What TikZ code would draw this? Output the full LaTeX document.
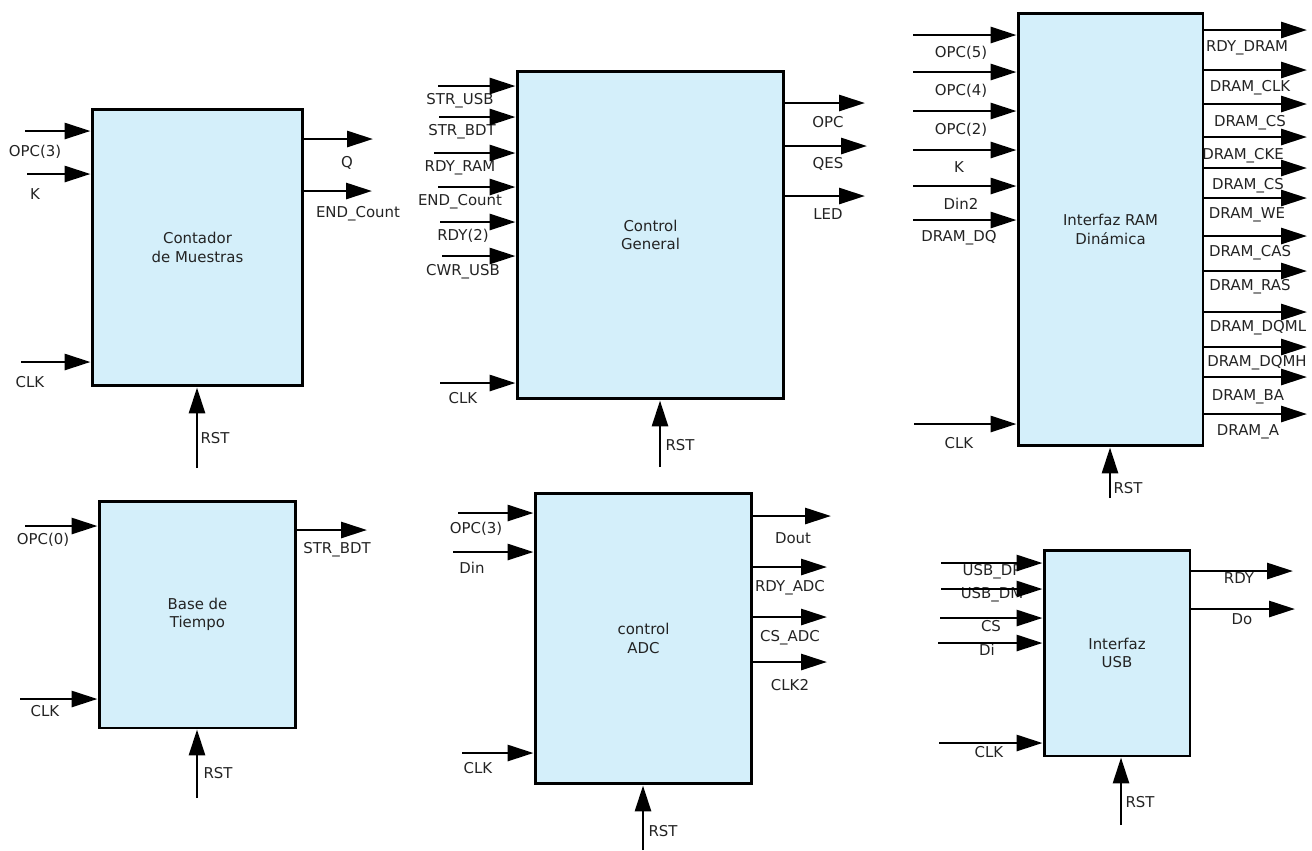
\documentclass[tikz,border=0pt]{standalone}
\usepackage{fontspec}
\setmainfont{DejaVu Sans}
\usetikzlibrary{arrows.meta}
\definecolor{blockfill}{RGB}{212,239,250}
\definecolor{labelgray}{RGB}{35,35,35}
\begin{document}
\begin{tikzpicture}[
  x=0.02cm, y=-0.02cm,
  every node/.style={align=center, inner sep=1pt},
  blockbox/.style={rectangle, draw=black, line width=1.7pt, fill=blockfill,
                   inner sep=0pt, font=\fontsize{8.5}{10.5}\selectfont\color{labelgray}},
  lbl/.style={font=\fontsize{8.5}{10}\selectfont\color{labelgray}},
  sig/.style={line width=1.6pt, -{Triangle[length=0.52cm, width=0.32cm]}}
]
\useasboundingbox (0,0) rectangle (1312,850);

% BLOCK 1: CONTADOR DE MUESTRAS
\node[blockbox, minimum width=4.22cm, minimum height=5.54cm] (cnt) at (197.5,247.5) {Contador\\de Muestras};
\coordinate (i1a) at (25,131);  \node[lbl] (l1a) at (35,152) {OPC(3)};
\coordinate (i1b) at (27,174);  \node[lbl] (l1b) at (35,194) {K};
\coordinate (i1c) at (21,362);  \node[lbl] (l1c) at (30,382) {CLK};
\coordinate (o1a) at (373,139); \node[lbl] (m1a) at (347,163) {Q};
\coordinate (o1b) at (372,191); \node[lbl] (m1b) at (358,214) {END\_Count};
\coordinate (r1)  at (197,468); \node[lbl] (n1)  at (215,438) {RST};
\draw[sig] (i1a) -- (i1a -| cnt.west);
\draw[sig] (i1b) -- (i1b -| cnt.west);
\draw[sig] (i1c) -- (i1c -| cnt.west);
\draw[sig] (o1a -| cnt.east) -- (o1a);
\draw[sig] (o1b -| cnt.east) -- (o1b);
\draw[sig] (r1) -- (r1 |- cnt.south);

% BLOCK 2: CONTROL GENERAL
\node[blockbox, minimum width=5.34cm, minimum height=6.56cm] (ctl) at (650.5,235) {Control\\General};
\coordinate (i2a) at (438,86);  \node[lbl] (l2a) at (460,101) {STR\_USB};
\coordinate (i2b) at (439,117); \node[lbl] (l2b) at (462,132) {STR\_BDT};
\coordinate (i2c) at (434,153); \node[lbl] (l2c) at (460,168) {RDY\_RAM};
\coordinate (i2d) at (438,187); \node[lbl] (l2d) at (460,202) {END\_Count};
\coordinate (i2e) at (440,222); \node[lbl] (l2e) at (463,236) {RDY(2)};
\coordinate (i2f) at (442,256); \node[lbl] (l2f) at (463,272) {CWR\_USB};
\coordinate (i2g) at (440,383); \node[lbl] (l2g) at (463,398) {CLK};
\coordinate (o2a) at (865,103); \node[lbl] (m2a) at (828,122) {OPC};
\coordinate (o2b) at (867,146); \node[lbl] (m2b) at (828,164) {QES};
\coordinate (o2c) at (865,196); \node[lbl] (m2c) at (828,214) {LED};
\coordinate (r2)  at (660,467); \node[lbl] (n2)  at (680,445) {RST};
\draw[sig] (i2a) -- (i2a -| ctl.west);
\draw[sig] (i2b) -- (i2b -| ctl.west);
\draw[sig] (i2c) -- (i2c -| ctl.west);
\draw[sig] (i2d) -- (i2d -| ctl.west);
\draw[sig] (i2e) -- (i2e -| ctl.west);
\draw[sig] (i2f) -- (i2f -| ctl.west);
\draw[sig] (i2g) -- (i2g -| ctl.west);
\draw[sig] (o2a -| ctl.east) -- (o2a);
\draw[sig] (o2b -| ctl.east) -- (o2b);
\draw[sig] (o2c -| ctl.east) -- (o2c);
\draw[sig] (r2) -- (r2 |- ctl.south);

% BLOCK 3: INTERFAZ RAM DINAMICA
\node[blockbox, minimum width=3.70cm, minimum height=8.66cm] (ram) at (1110.5,229.5) {Interfaz RAM\\Dinámica};
\coordinate (i3a) at (913,35);   \node[lbl] (l3a) at (961,53)  {OPC(5)};
\coordinate (i3b) at (913,72);   \node[lbl] (l3b) at (961,91)  {OPC(4)};
\coordinate (i3c) at (913,111);  \node[lbl] (l3c) at (961,130) {OPC(2)};
\coordinate (i3d) at (913,150);  \node[lbl] (l3d) at (959,167) {K};
\coordinate (i3e) at (913,186);  \node[lbl] (l3e) at (961,204) {Din2};
\coordinate (i3f) at (913,220);  \node[lbl] (l3f) at (959,238) {DRAM\_DQ};
\coordinate (i3g) at (914,424);  \node[lbl] (l3g) at (959,443) {CLK};
\coordinate (o3a) at (1307,30);  \node[lbl] (m3a) at (1247,48)  {RDY\_DRAM};
\coordinate (o3b) at (1307,70);  \node[lbl] (m3b) at (1250,88)  {DRAM\_CLK};
\coordinate (o3c) at (1307,104); \node[lbl] (m3c) at (1250,123) {DRAM\_CS};
\coordinate (o3d) at (1307,137); \node[lbl] (m3d) at (1243,156) {DRAM\_CKE};
\coordinate (o3e) at (1307,168); \node[lbl] (m3e) at (1248,186) {DRAM\_CS};
\coordinate (o3f) at (1307,198); \node[lbl] (m3f) at (1247,215) {DRAM\_WE};
\coordinate (o3g) at (1307,236); \node[lbl] (m3g) at (1250,253) {DRAM\_CAS};
\coordinate (o3h) at (1307,271); \node[lbl] (m3h) at (1250,287) {DRAM\_RAS};
\coordinate (o3i) at (1307,312); \node[lbl] (m3i) at (1258,328) {DRAM\_DQML};
\coordinate (o3j) at (1307,347); \node[lbl] (m3j) at (1257,363) {DRAM\_DQMH};
\coordinate (o3k) at (1307,377); \node[lbl] (m3k) at (1248,397) {DRAM\_BA};
\coordinate (o3l) at (1307,414); \node[lbl] (m3l) at (1248,432) {DRAM\_A};
\coordinate (r3)  at (1110,498); \node[lbl] (n3)  at (1128,488) {RST};
\draw[sig] (i3a) -- (i3a -| ram.west);
\draw[sig] (i3b) -- (i3b -| ram.west);
\draw[sig] (i3c) -- (i3c -| ram.west);
\draw[sig] (i3d) -- (i3d -| ram.west);
\draw[sig] (i3e) -- (i3e -| ram.west);
\draw[sig] (i3f) -- (i3f -| ram.west);
\draw[sig] (i3g) -- (i3g -| ram.west);
\draw[sig] (o3a -| ram.east) -- (o3a);
\draw[sig] (o3b -| ram.east) -- (o3b);
\draw[sig] (o3c -| ram.east) -- (o3c);
\draw[sig] (o3d -| ram.east) -- (o3d);
\draw[sig] (o3e -| ram.east) -- (o3e);
\draw[sig] (o3f -| ram.east) -- (o3f);
\draw[sig] (o3g -| ram.east) -- (o3g);
\draw[sig] (o3h -| ram.east) -- (o3h);
\draw[sig] (o3i -| ram.east) -- (o3i);
\draw[sig] (o3j -| ram.east) -- (o3j);
\draw[sig] (o3k -| ram.east) -- (o3k);
\draw[sig] (o3l -| ram.east) -- (o3l);
\draw[sig] (r3) -- (r3 |- ram.south);

% BLOCK 4: BASE DE TIEMPO
\node[blockbox, minimum width=3.94cm, minimum height=4.54cm] (bdt) at (197.5,614.5) {Base de\\Tiempo};
\coordinate (i4a) at (25,526);  \node[lbl] (l4a) at (43,540) {OPC(0)};
\coordinate (i4b) at (20,699);  \node[lbl] (l4b) at (45,711) {CLK};
\coordinate (o4a) at (367,530); \node[lbl] (m4a) at (337,550) {STR\_BDT};
\coordinate (r4)  at (197,798); \node[lbl] (n4)  at (218,773) {RST};
\draw[sig] (i4a) -- (i4a -| bdt.west);
\draw[sig] (i4b) -- (i4b -| bdt.west);
\draw[sig] (o4a -| bdt.east) -- (o4a);
\draw[sig] (r4) -- (r4 |- bdt.south);

% BLOCK 5: CONTROL ADC
\node[blockbox, minimum width=4.34cm, minimum height=5.82cm] (adc) at (643.5,638.5) {control\\ADC};
\coordinate (i5a) at (458,513); \node[lbl] (l5a) at (476,529) {OPC(3)};
\coordinate (i5b) at (453,552); \node[lbl] (l5b) at (472,568) {Din};
\coordinate (i5c) at (462,753); \node[lbl] (l5c) at (478,768) {CLK};
\coordinate (o5a) at (831,516); \node[lbl] (m5a) at (793,538) {Dout};
\coordinate (o5b) at (827,567); \node[lbl] (m5b) at (790,588) {RDY\_ADC};
\coordinate (o5c) at (827,617); \node[lbl] (m5c) at (790,638) {CS\_ADC};
\coordinate (o5d) at (827,662); \node[lbl] (m5d) at (790,685) {CLK2};
\coordinate (r5)  at (643,850); \node[lbl] (n5)  at (663,831) {RST};
\draw[sig] (i5a) -- (i5a -| adc.west);
\draw[sig] (i5b) -- (i5b -| adc.west);
\draw[sig] (i5c) -- (i5c -| adc.west);
\draw[sig] (o5a -| adc.east) -- (o5a);
\draw[sig] (o5b -| adc.east) -- (o5b);
\draw[sig] (o5c -| adc.east) -- (o5c);
\draw[sig] (o5d -| adc.east) -- (o5d);
\draw[sig] (r5) -- (r5 |- adc.south);

% BLOCK 6: INTERFAZ USB
\node[blockbox, minimum width=2.92cm, minimum height=4.12cm] (usb) at (1117,653) {Interfaz\\USB};
\coordinate (i6a) at (941,563);  \node[lbl] (l6a) at (992,572) {USB\_DP};
\coordinate (i6b) at (941,589);  \node[lbl] (l6b) at (992,595) {USB\_DM};
\coordinate (i6c) at (940,618);  \node[lbl] (l6c) at (991,626) {CS};
\coordinate (i6d) at (938,643);  \node[lbl] (l6d) at (987,650) {Di};
\coordinate (i6e) at (939,743);  \node[lbl] (l6e) at (989,752) {CLK};
\coordinate (o6a) at (1293,571); \node[lbl] (m6a) at (1239,578) {RDY};
\coordinate (o6b) at (1295,609); \node[lbl] (m6b) at (1242,619) {Do};
\coordinate (r6)  at (1121,825); \node[lbl] (n6)  at (1140,802) {RST};
\draw[sig] (i6a) -- (i6a -| usb.west);
\draw[sig] (i6b) -- (i6b -| usb.west);
\draw[sig] (i6c) -- (i6c -| usb.west);
\draw[sig] (i6d) -- (i6d -| usb.west);
\draw[sig] (i6e) -- (i6e -| usb.west);
\draw[sig] (o6a -| usb.east) -- (o6a);
\draw[sig] (o6b -| usb.east) -- (o6b);
\draw[sig] (r6) -- (r6 |- usb.south);
\end{tikzpicture}
\end{document}
